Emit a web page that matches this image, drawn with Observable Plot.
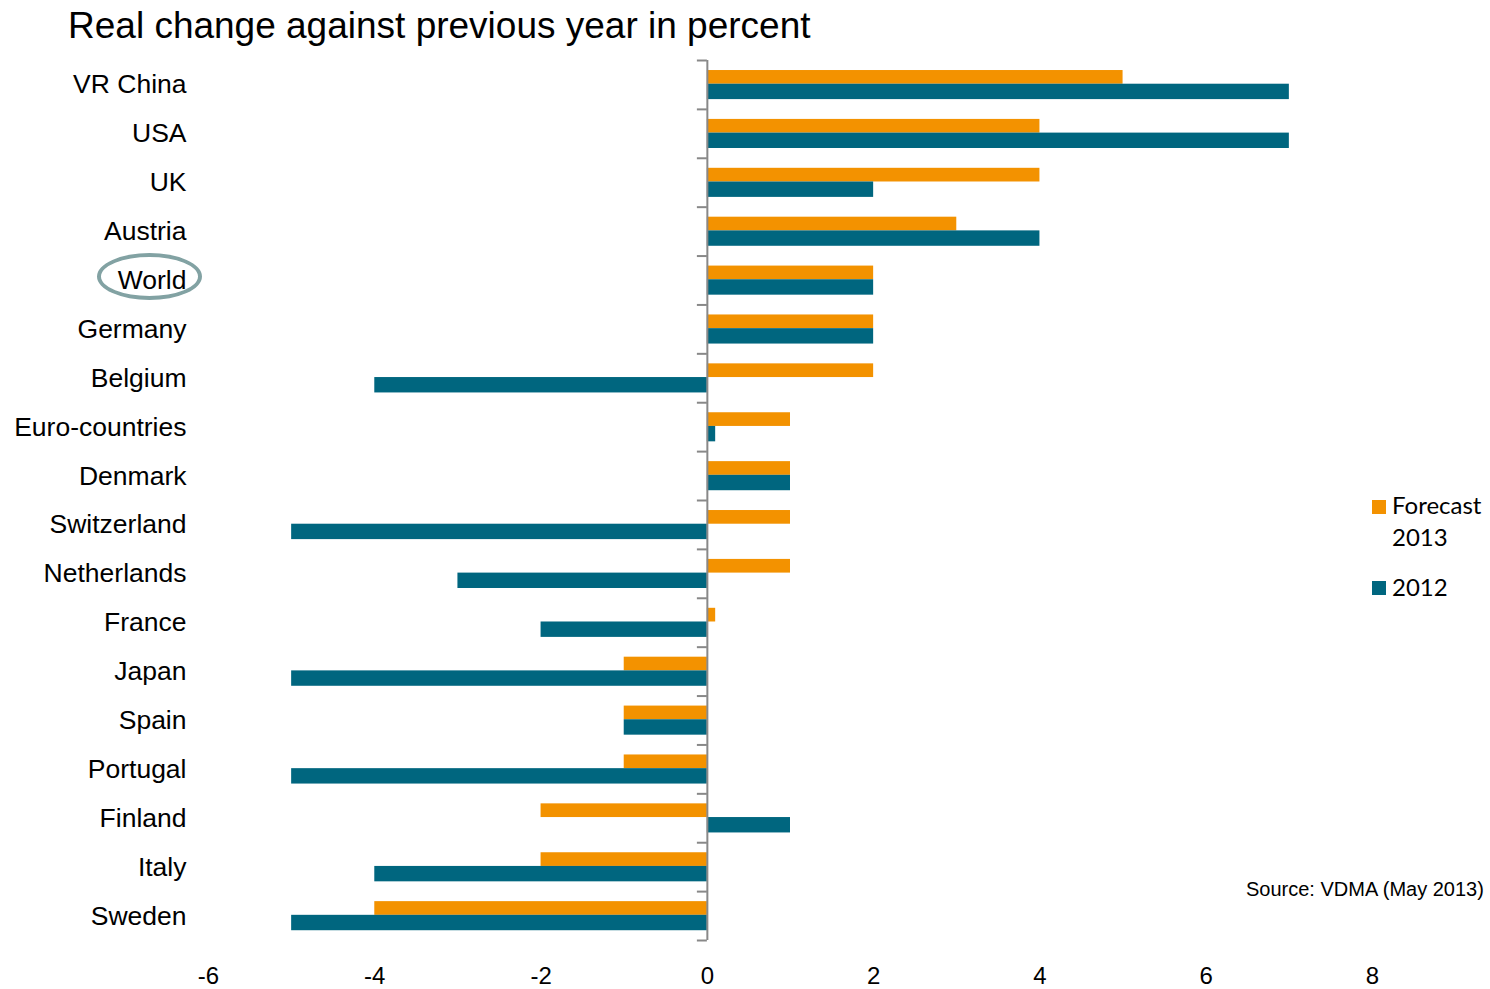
<!DOCTYPE html>
<html>
<head>
<meta charset="utf-8">
<script src="https://cdn.jsdelivr.net/npm/d3@7"></script>
<script src="https://cdn.jsdelivr.net/npm/@observablehq/plot@0.6"></script>
<style>
  html, body { margin: 0; padding: 0; background: #fff; }
  #wrap { position: relative; width: 1490px; height: 989px; overflow: hidden; font-family: "Liberation Sans", Arial, sans-serif; }
  #chart { position: absolute; left: 0; top: 0; }
  #title { position: absolute; left: 68px; top: 7px; font-size: 37px; line-height: 37px; color: #000; white-space: nowrap; }
  #source { position: absolute; left: 1246px; top: 879px; font-size: 20px; line-height: 20px; color: #000; white-space: nowrap; }
  .leg { position: absolute; left: 1372px; font-family: Lato, "Open Sans", sans-serif; font-size: 24px; line-height: 32px; color: #000; }
  .sw { position: absolute; left: 0; width: 14px; height: 14px; }
  .lt { position: absolute; left: 20px; white-space: nowrap; }
  #ring { position: absolute; left: 97px; top: 253px; width: 97px; height: 39px; border: 4px solid #82A2A3; border-radius: 50%; }
</style>
</head>
<body>
<div id="wrap">
  <div id="chart"></div>
  <div id="title">Real change against previous year in percent</div>
  <div id="ring"></div>
  <div class="leg" style="top:489px;">
    <div class="sw" style="top:11px;background:#F39200;"></div>
    <div class="lt" style="top:0;">Forecast<br>2013</div>
  </div>
  <div class="leg" style="top:571px;">
    <div class="sw" style="top:10px;background:#00667F;"></div>
    <div class="lt" style="top:0;">2012</div>
  </div>
  <div id="source">Source: VDMA (May 2013)</div>
</div>
<script>
const countries = ["VR China","USA","UK","Austria","World","Germany","Belgium","Euro-countries","Denmark","Switzerland","Netherlands","France","Japan","Spain","Portugal","Finland","Italy","Sweden"];
const forecast2013 = [5, 4, 4, 3, 2, 2, 2, 1, 1, 1, 1, 0.1, -1, -1, -1, -2, -2, -4];
const actual2012   = [7, 7, 2, 4, 2, 2, -4, 0.1, 1, -5, -3, -2, -5, -1, -5, 1, -4, -5];
const xTicks = [-6, -4, -2, 0, 2, 4, 6, 8];
const seriesNames = ["Forecast 2013", "2012"];
const seriesColors = ["#F39200", "#00667F"];

const rows = [];
countries.forEach((c, i) => {
  rows.push({country: c, i, series: seriesNames[0], value: forecast2013[i]});
  rows.push({country: c, i, series: seriesNames[1], value: actual2012[i]});
});
// band slots within each country row (fractions of the row)
const slot = {"Forecast 2013": [0.205, 0.485], "2012": [0.485, 0.8]};
const labels = countries.map((c, i) => ({country: c, i}));
const boundaries = d3.range(countries.length + 1);

const plot = Plot.plot({
  width: 1490,
  height: 989,
  marginTop: 60,
  marginBottom: 49,
  marginLeft: 208,
  marginRight: 118,
  style: {fontFamily: "'Liberation Sans', Arial, sans-serif", background: "transparent"},
  x: {domain: [-6, 8], ticks: xTicks, label: null},
  y: {domain: [0, countries.length], reverse: true, axis: null},
  color: {domain: seriesNames, range: seriesColors},
  marks: [
    Plot.rectX(rows, {
      x1: 0, x2: "value",
      y1: d => d.i + slot[d.series][0],
      y2: d => d.i + slot[d.series][1],
      fill: "series"
    }),
    Plot.ruleX([0], {stroke: "#888", strokeWidth: 2}),
    Plot.ruleY(boundaries, {y: d => d, x1: -0.12, x2: 0, stroke: "#888", strokeWidth: 2}),
    Plot.text(labels, {
      y: d => d.i + 0.5, frameAnchor: "left", text: "country",
      textAnchor: "end", dx: -22, fontSize: 26.5, fill: "#000"
    }),
    Plot.axisX({ticks: xTicks, tickSize: 0, tickPadding: 26, fontSize: 24, label: null, tickFormat: d => String(d), fill: "#000"})
  ]
});
document.getElementById("chart").appendChild(plot);
</script>
</body>
</html>
